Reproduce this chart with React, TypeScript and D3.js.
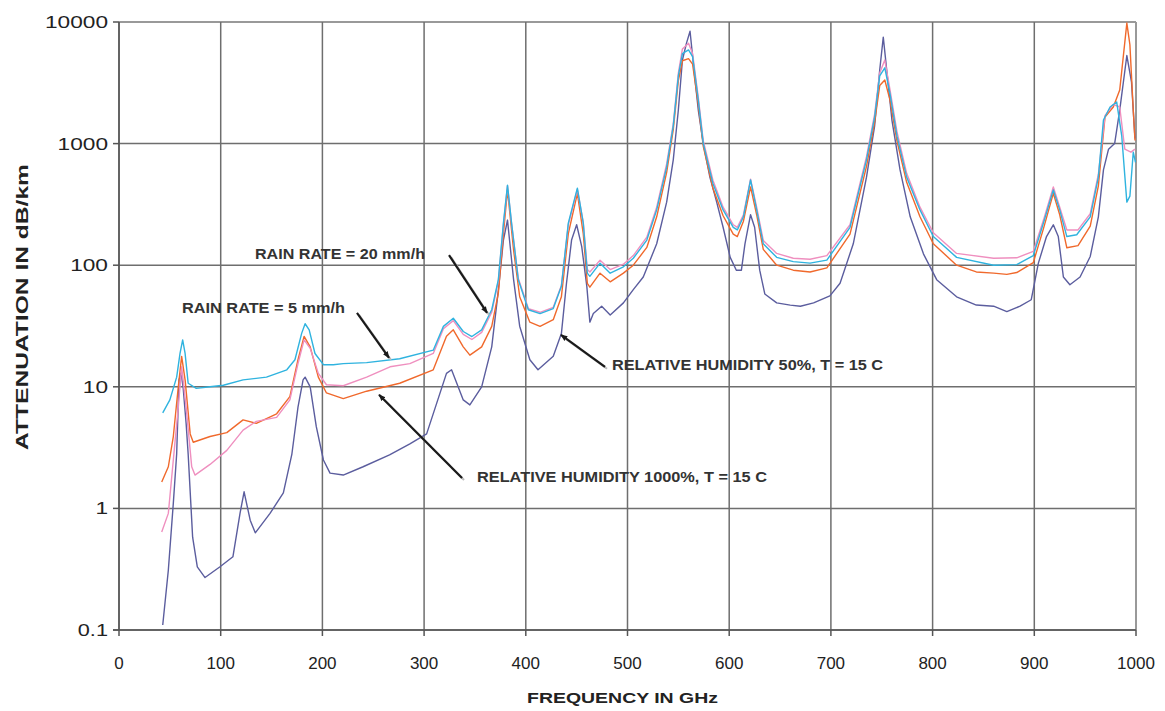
import React from "react";
import * as d3 from "d3";

// ---- data (frequency in GHz, attenuation in dB/km) ----
const xTicks = [0, 100, 200, 300, 400, 500, 600, 700, 800, 900, 1000];
const yTicks = [0.1, 1, 10, 100, 1000, 10000];
const yTickLabels = ["0.1", "1", "10", "100", "1000", "10000"];

// Relative humidity 50%, T = 15 C (navy)
const rh50Freq = [43, 48.5, 53.4, 56.7, 59, 61, 63, 66, 68, 72.4, 77, 84.6, 99, 112, 119, 123, 129, 134, 148.5, 161.6, 170, 176, 181, 183, 188, 194, 201, 207.5, 220.5, 240, 266, 286, 302.5, 322, 327, 338.5, 345, 356.6, 366.5, 373, 378, 382, 388, 394, 404, 412, 427, 435, 440, 445, 450, 455, 460, 463, 466.4, 474.6, 483, 496, 505.7, 515.5, 528.7, 538.5, 545, 550, 554, 558, 561.5, 566, 569.6, 574.5, 581, 587.7, 594, 601, 607, 612, 615.5, 621, 625, 630, 635, 646.7, 660, 670, 683, 699, 709, 722, 735, 743, 748, 751.5, 755.5, 760, 768, 778, 791, 804, 823.6, 843, 860, 873, 886, 897, 904, 912, 918.7, 923.6, 928.6, 935, 945, 955, 963, 968, 973, 979, 984, 991, 995.6, 999];
const rh50Val = [0.11, 0.31, 1.1, 2.8, 11.4, 13, 10, 5, 2.8, 0.58, 0.33, 0.27, 0.33, 0.40, 0.91, 1.37, 0.80, 0.63, 0.91, 1.34, 2.8, 6.8, 11.4, 12, 10, 4.7, 2.5, 1.95, 1.88, 2.2, 2.75, 3.4, 4.1, 12.9, 13.8, 7.8, 7.1, 10, 21.3, 62, 161, 235, 76, 31.5, 16.7, 13.8, 17.8, 27.4, 71, 161, 215, 142, 67, 34, 40, 46, 39, 49, 63, 80, 150, 330, 735, 1888, 4870, 6700, 8400, 3600, 1888, 1000, 530, 330, 205, 116, 91, 91, 150, 260, 205, 91, 58, 49, 47, 46, 49, 56, 71, 150, 530, 1400, 4030, 7500, 3600, 1563, 608, 250, 124, 76, 55, 47, 46, 41.5, 46, 52, 104, 172, 215, 172, 80, 69, 80, 118, 250, 608, 900, 1000, 1888, 5300, 3200, 1100];

// Relative humidity 100%, T = 15 C (orange)
const rh100Freq = [42, 48.5, 53.4, 58.3, 61.6, 65, 70, 73, 89.5, 106, 122, 135, 155, 168, 176, 182, 188, 196, 204, 220.5, 243.5, 276, 309, 322, 328.7, 338.5, 345, 356.6, 366.5, 373, 378, 382, 388, 394, 404, 414, 427, 435, 441.8, 450.7, 456.5, 460.5, 463, 473, 483, 496, 505.7, 519, 528.7, 538.5, 545, 550, 554, 560, 564, 569.6, 574.5, 584, 594, 604, 608, 614, 621, 627, 633.5, 646.7, 663, 679.5, 696, 718.8, 735, 743, 748, 753, 758, 765, 774.5, 787.6, 800.7, 823.6, 843, 860, 873, 882.7, 899, 909, 918.7, 925, 932, 943, 955, 963, 969.5, 977.7, 984, 991, 994, 997.3, 999];
const rh100Val = [1.65, 2.2, 3.9, 10, 17.8, 11.4, 4.1, 3.5, 3.9, 4.2, 5.35, 5.0, 6.0, 8.3, 16.7, 26, 21.3, 12, 8.9, 8.0, 9.2, 10.7, 13.8, 26, 29.4, 21.3, 18.2, 21.3, 31.4, 59, 182, 416, 133, 55, 34, 31.4, 35.6, 55, 182, 390, 182, 71, 66, 86, 73, 86, 100, 140, 250, 580, 1300, 3300, 4800, 5000, 4500, 2100, 950, 430, 255, 180, 172, 230, 440, 260, 135, 100, 91, 88, 95, 180, 650, 1500, 3000, 3334, 2300, 1050, 480, 250, 150, 100, 88, 86, 84, 87, 105, 200, 390, 260, 139, 145, 210, 450, 1650, 2000, 2758, 9800, 6500, 1888, 1060];

// Rain rate = 5 mm/h (pink)
const rain5Freq = [42, 48.5, 53.4, 58.3, 61.6, 66, 71.5, 74.7, 89.5, 106, 122, 135, 155, 168, 176, 182, 188, 196, 204, 220.5, 243.5, 266.5, 286, 309, 319, 328.7, 338.5, 347, 356.6, 366.5, 373, 378, 382, 386, 392.6, 402.5, 414, 427, 435, 441.8, 450.7, 456.5, 460.5, 463, 473, 483, 496, 505.7, 519, 528.7, 538.5, 545, 550, 554, 560, 564, 569.6, 574.5, 584, 594, 604, 608, 614, 621, 627, 633.5, 646.7, 663, 679.5, 696, 718.8, 735, 743, 748, 753, 758, 765, 774.5, 787.6, 800.7, 823.6, 860, 882.7, 899, 909, 918.7, 925, 932, 943, 955, 963, 969.5, 977.7, 984, 989, 995, 999];
const rain5Val = [0.64, 0.91, 2.5, 6.8, 14.6, 6.8, 2.2, 1.88, 2.3, 3.0, 4.4, 5.2, 5.6, 7.8, 15.5, 24.3, 20.7, 12.9, 10.4, 10.2, 12, 14.6, 15.5, 18.8, 30, 35, 27, 24.5, 28, 41, 74, 215, 450, 220, 78, 44, 41, 45, 68, 215, 420, 225, 92, 88, 110, 92, 102, 120, 170, 300, 680, 1450, 3800, 6000, 6700, 5500, 2400, 1050, 500, 300, 215, 205, 260, 510, 300, 160, 125, 114, 112, 120, 215, 780, 1750, 3800, 4870, 2800, 1250, 570, 300, 185, 125, 114, 115, 130, 235, 440, 300, 195, 195, 265, 560, 1700, 2100, 2000, 900, 850, 900];

// Rain rate = 20 mm/h (cyan)
const rain20Freq = [43, 50, 56.7, 60, 62.6, 65, 68, 76, 89.5, 102.6, 122, 145, 165, 173, 179.6, 183, 187, 192.7, 201, 210.7, 220.5, 243.5, 276, 309, 319, 328.7, 338.5, 347, 356.6, 366.5, 373, 378, 382, 386, 392.6, 402.5, 414, 427, 435, 441.8, 450.7, 456.5, 460.5, 463, 473, 483, 496, 505.7, 519, 528.7, 538.5, 545, 550, 554, 560, 564, 569.6, 574.5, 584, 594, 604, 608, 614, 621, 627, 633.5, 646.7, 663, 679.5, 696, 718.8, 735, 743, 748, 753, 758, 765, 774.5, 787.6, 800.7, 823.6, 860, 882.7, 899, 909, 918.7, 925, 932, 941.7, 955, 963, 968, 974.5, 981, 986, 991, 994, 997.3, 999.5];
const rain20Val = [6.1, 7.8, 12, 18.8, 24.3, 18.8, 10.7, 9.7, 10, 10.3, 11.4, 12, 13.8, 16.7, 27.5, 33, 29.4, 18.8, 15.2, 15.2, 15.5, 15.8, 17, 20, 31.4, 36.6, 28.5, 25.9, 29.4, 43, 76, 222, 455, 222, 76, 43, 40, 44, 67, 222, 430, 222, 86, 81, 104, 86, 97, 114, 161, 285, 640, 1400, 3600, 5500, 5900, 5200, 2282, 1000, 470, 285, 205, 195, 250, 503, 285, 150, 116, 107, 104, 110, 205, 735, 1650, 3600, 4200, 2600, 1150, 530, 285, 172, 116, 100, 101, 120, 222, 416, 285, 172, 178, 250, 530, 1563, 2000, 2200, 1150, 330, 370, 850, 700];

const seriesNames = ["RELATIVE HUMIDITY 50%", "RELATIVE HUMIDITY 100%", "RAIN RATE = 5 mm/h", "RAIN RATE = 20 mm/h"];
const seriesColors = ["#5b5d9e", "#f0692c", "#ef8fbf", "#2fb3df"];

// annotations: text + arrow (tail -> tip) in data space
const annotationTexts = ["RAIN RATE = 20 mm/h", "RAIN RATE = 5 mm/h", "RELATIVE HUMIDITY 50%, T = 15 C", "RELATIVE HUMIDITY 1000%, T = 15 C"];
const annotationTextAt = [[133.7, 112], [62, 40.5], [484.8, 13.7], [352, 1.65]];
const annotationTextWidth = [170, 163, 271, 290];
const arrowTail = [[324.5, 121], [234, 40.5], [477.9, 14.6], [337.3, 1.78]];
const arrowTip = [[361.9, 40.5], [265.5, 17.3], [434.6, 26.7], [255.7, 8.6]];

const W = 1165;
const H = 711;
const plot = { left: 119, right: 1136, top: 22, bottom: 630 };

export default function App() {
  const x = d3.scaleLinear().domain([0, 1000]).range([plot.left, plot.right]);
  const y = d3.scaleLog().domain([0.1, 10000]).range([plot.bottom, plot.top]);
  const line = d3
    .line<[number, number]>()
    .x((d) => x(d[0]))
    .y((d) => y(d[1]));

  const series = [
    { f: rh50Freq, v: rh50Val },
    { f: rh100Freq, v: rh100Val },
    { f: rain5Freq, v: rain5Val },
    { f: rain20Freq, v: rain20Val },
  ].map((s, i) => ({
    name: seriesNames[i],
    color: seriesColors[i],
    pts: s.f.map((f, j) => [f, s.v[j]] as [number, number]),
  }));

  const font = "'Liberation Sans', Arial, Helvetica, sans-serif";
  const gridColor = "#6e6e6e";

  return (
    <svg
      width={W}
      height={H}
      style={{ position: "absolute", left: 0, top: 0, background: "#fff" }}
      fontFamily={font}
    >
      <defs>
        <marker id="ah" viewBox="0 0 10 10" refX="9" refY="5" markerWidth="7" markerHeight="7" orient="auto" markerUnits="userSpaceOnUse">
          <path d="M0,1 L10,5 L0,9 z" fill="#1a1a1a" />
        </marker>
      </defs>
      {/* horizontal gridlines */}
      {yTicks.map((t) => (
        <line key={"hy" + t} x1={plot.left} x2={plot.right} y1={y(t)} y2={y(t)} stroke={t === 10000 ? "#999" : gridColor} strokeWidth={t === 10000 ? 2 : 1.5} />
      ))}
      {/* vertical gridlines */}
      {xTicks.map((t) => (
        <line key={"vx" + t} x1={x(t)} x2={x(t)} y1={plot.top} y2={plot.bottom} stroke={t === 1000 ? "#999" : gridColor} strokeWidth={t === 1000 ? 2 : 1.5} />
      ))}
      {/* axes */}
      <line x1={plot.left} x2={plot.left} y1={plot.top} y2={plot.bottom} stroke="#555" strokeWidth={1.5} />
      <line x1={plot.left - 6} x2={plot.right} y1={plot.bottom} y2={plot.bottom} stroke="#555" strokeWidth={1.5} />
      {yTicks.map((t) => (
        <line key={"ty" + t} x1={plot.left - 6} x2={plot.left} y1={y(t)} y2={y(t)} stroke="#555" strokeWidth={1.5} />
      ))}
      {xTicks.map((t) => (
        <line key={"tx" + t} x1={x(t)} x2={x(t)} y1={plot.bottom} y2={plot.bottom + 6} stroke="#555" strokeWidth={1.5} />
      ))}
      {/* tick labels */}
      {yTicks.map((t, i) => {
        const lab = yTickLabels[i];
        const len = lab.replace(".", "").length * 12.6 + (lab.includes(".") ? 5 : 0);
        return (
          <text key={"ly" + t} x={plot.left - 11 - len} y={y(t) + 6} fontSize={17} fill="#222" textLength={len} lengthAdjust="spacingAndGlyphs">
            {lab}
          </text>
        );
      })}
      {xTicks.map((t) => (
        <text key={"lx" + t} x={x(t)} y={669} fontSize={17} fill="#222" textAnchor="middle">
          {String(t)}
        </text>
      ))}
      {/* axis titles */}
      <text x={527} y={703} fontSize={15} fontWeight="bold" fill="#222" textLength={191} lengthAdjust="spacingAndGlyphs">
        FREQUENCY IN GHz
      </text>
      <text transform={`translate(28,${307}) rotate(-90)`} x={-143} y={0} fontSize={16} fontWeight="bold" fill="#222" textLength={286} lengthAdjust="spacingAndGlyphs">
        ATTENUATION IN dB/km
      </text>
      {/* series */}
      <g fill="none" strokeWidth={1.4} strokeLinejoin="round">
        {series.map((s) => (
          <path key={s.name} d={line(s.pts) || ""} stroke={s.color} />
        ))}
      </g>
      {/* annotations */}
      {annotationTexts.map((t, i) => (
        <g key={"an" + i}>
          <line
            x1={x(arrowTail[i][0]) + 2}
            y1={y(arrowTail[i][1]) + 2}
            x2={x(arrowTip[i][0]) + 2}
            y2={y(arrowTip[i][1]) + 2}
            stroke="#bbb"
            strokeWidth={2}
          />
          <line
            x1={x(arrowTail[i][0])}
            y1={y(arrowTail[i][1])}
            x2={x(arrowTip[i][0])}
            y2={y(arrowTip[i][1])}
            stroke="#1a1a1a"
            strokeWidth={2.2}
            markerEnd="url(#ah)"
          />
          <text
            x={x(annotationTextAt[i][0])}
            y={y(annotationTextAt[i][1])}
            fontSize={14}
            fontWeight="bold"
            fill="#333"
            textLength={annotationTextWidth[i]}
            lengthAdjust="spacingAndGlyphs"
          >
            {t}
          </text>
        </g>
      ))}
    </svg>
  );
}
